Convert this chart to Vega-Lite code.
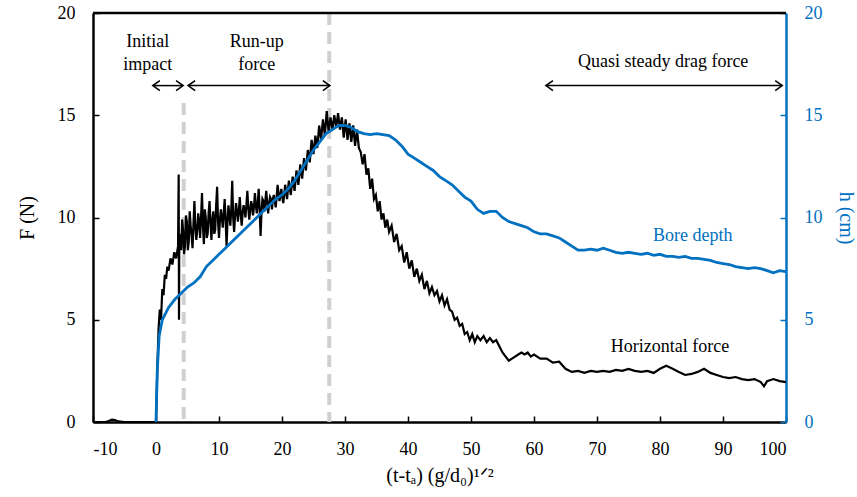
{
  "$schema": "https://vega.github.io/schema/vega-lite/v6.json",
  "width": 693,
  "height": 409,
  "autosize": {"type": "none"},
  "padding": {"left": 93, "top": 13, "right": 71, "bottom": 75},
  "background": "white",
  "config": {
    "view": {"stroke": null},
    "font": "Liberation Serif",
    "axis": {"grid": false, "labelFont": "Liberation Serif", "titleFont": "Liberation Serif", "labelFontSize": 18, "titleFontSize": 20, "titleFontWeight": "normal", "domainWidth": 2.5, "tickWidth": 1.5, "tickSize": -6, "labelPadding": 24}
  },
  "datasets": {
    "force": [
      {"x": -10, "F": 0}, {"x": -8, "F": 0}, {"x": -7.5, "F": 0.05}, {"x": -7, "F": 0.12}, {"x": -6.5, "F": 0.1}, {"x": -6, "F": 0.03}, {"x": -5, "F": 0}, {"x": 0, "F": 0},
      {"x": 0.2, "F": 2.5}, {"x": 0.4, "F": 4.5}, {"x": 0.6, "F": 5.5}, {"x": 0.8, "F": 5.0}, {"x": 1.0, "F": 6.5}, {"x": 1.2, "F": 6.2}, {"x": 1.4, "F": 7.2}, {"x": 1.6, "F": 7.0}, {"x": 1.8, "F": 7.6}, {"x": 2.0, "F": 7.4}, {"x": 2.3, "F": 8.0}, {"x": 2.6, "F": 7.7}, {"x": 2.9, "F": 8.3}, {"x": 3.2, "F": 8.0}, {"x": 3.5, "F": 8.6}, {"x": 3.6, "F": 12.1}, {"x": 3.65, "F": 5.0}, {"x": 3.7, "F": 9.2},
      {"x": 4.0, "F": 8.4}, {"x": 4.15, "F": 9.9}, {"x": 4.3, "F": 9.4}, {"x": 4.45, "F": 8.2}, {"x": 4.6, "F": 8.6}, {"x": 4.75, "F": 10.1}, {"x": 4.9, "F": 9.8}, {"x": 5.05, "F": 8.4}, {"x": 5.2, "F": 8.8}, {"x": 5.35, "F": 10.3}, {"x": 5.5, "F": 9.6}, {"x": 5.65, "F": 9.1}, {"x": 5.8, "F": 8.5}, {"x": 5.95, "F": 9.7}, {"x": 6.1, "F": 10.8}, {"x": 6.25, "F": 9.5}, {"x": 6.4, "F": 8.9}, {"x": 6.55, "F": 9.4}, {"x": 6.7, "F": 10.2}, {"x": 6.85, "F": 9.8}, {"x": 7.0, "F": 9.0}, {"x": 7.15, "F": 10.0}, {"x": 7.3, "F": 11.2}, {"x": 7.45, "F": 9.6}, {"x": 7.6, "F": 8.7}, {"x": 7.75, "F": 10.4}, {"x": 7.9, "F": 10.0}, {"x": 8.05, "F": 9.0}, {"x": 8.2, "F": 9.2}, {"x": 8.35, "F": 10.2}, {"x": 8.5, "F": 10.8}, {"x": 8.65, "F": 9.7}, {"x": 8.8, "F": 8.9}, {"x": 8.95, "F": 9.9}, {"x": 9.1, "F": 10.3}, {"x": 9.25, "F": 9.2}, {"x": 9.4, "F": 9.4}, {"x": 9.55, "F": 10.6}, {"x": 9.7, "F": 11.5}, {"x": 9.85, "F": 9.8}, {"x": 10.0, "F": 9.0}, {"x": 10.15, "F": 9.9}, {"x": 10.3, "F": 10.4}, {"x": 10.45, "F": 10.0}, {"x": 10.6, "F": 9.5}, {"x": 10.75, "F": 10.2}, {"x": 10.9, "F": 10.9}, {"x": 11.05, "F": 9.9}, {"x": 11.2, "F": 8.6}, {"x": 11.35, "F": 9.8}, {"x": 11.5, "F": 10.6}, {"x": 11.65, "F": 10.1}, {"x": 11.8, "F": 9.6}, {"x": 11.95, "F": 10.4}, {"x": 12.1, "F": 11.8}, {"x": 12.25, "F": 10.0}, {"x": 12.4, "F": 9.3}, {"x": 12.55, "F": 10.1}, {"x": 12.7, "F": 10.7}, {"x": 12.85, "F": 10.3}, {"x": 13.0, "F": 9.8}, {"x": 13.15, "F": 10.3}, {"x": 13.3, "F": 11.0}, {"x": 13.45, "F": 10.2}, {"x": 13.6, "F": 9.6}, {"x": 13.75, "F": 10.2}, {"x": 13.9, "F": 10.6}, {"x": 14.05, "F": 10.4}, {"x": 14.2, "F": 10.0}, {"x": 14.35, "F": 10.6}, {"x": 14.5, "F": 11.3}, {"x": 14.65, "F": 10.5}, {"x": 14.8, "F": 9.9}, {"x": 14.95, "F": 10.3}, {"x": 15.1, "F": 10.8}, {"x": 15.25, "F": 10.6}, {"x": 15.4, "F": 10.1}, {"x": 15.55, "F": 10.5}, {"x": 15.7, "F": 11.2}, {"x": 15.85, "F": 10.6}, {"x": 16.0, "F": 10.2}, {"x": 16.15, "F": 10.7}, {"x": 16.3, "F": 11.4}, {"x": 16.45, "F": 10.4}, {"x": 16.6, "F": 9.1}, {"x": 16.75, "F": 10.3}, {"x": 16.9, "F": 10.9}, {"x": 17.05, "F": 10.8}, {"x": 17.2, "F": 10.3}, {"x": 17.35, "F": 10.8}, {"x": 17.5, "F": 11.3}, {"x": 17.65, "F": 10.7}, {"x": 17.8, "F": 10.2}, {"x": 17.95, "F": 10.7}, {"x": 18.1, "F": 11.0}, {"x": 18.25, "F": 10.9}, {"x": 18.4, "F": 10.4}, {"x": 18.55, "F": 10.9}, {"x": 18.7, "F": 11.1}, {"x": 18.85, "F": 10.8}, {"x": 19.0, "F": 10.5}, {"x": 19.15, "F": 11.0}, {"x": 19.3, "F": 11.6}, {"x": 19.45, "F": 11.2}, {"x": 19.6, "F": 10.8}, {"x": 19.75, "F": 11.1}, {"x": 19.9, "F": 11.4}, {"x": 20.05, "F": 11.0}, {"x": 20.2, "F": 10.7}, {"x": 20.35, "F": 11.1}, {"x": 20.5, "F": 11.6}, {"x": 20.65, "F": 11.3}, {"x": 20.8, "F": 10.9}, {"x": 20.95, "F": 11.4}, {"x": 21.1, "F": 11.8}, {"x": 21.25, "F": 11.4}, {"x": 21.4, "F": 11.1}, {"x": 21.55, "F": 11.6}, {"x": 21.7, "F": 12.0}, {"x": 21.85, "F": 11.6}, {"x": 22.0, "F": 11.3}, {"x": 22.15, "F": 11.8}, {"x": 22.3, "F": 12.3}, {"x": 22.45, "F": 11.9}, {"x": 22.6, "F": 11.6}, {"x": 22.75, "F": 12.1}, {"x": 22.9, "F": 12.6}, {"x": 23.05, "F": 12.2}, {"x": 23.2, "F": 11.9}, {"x": 23.35, "F": 12.4}, {"x": 23.5, "F": 12.9}, {"x": 23.65, "F": 12.6}, {"x": 23.8, "F": 12.3}, {"x": 23.95, "F": 12.8}, {"x": 24.1, "F": 13.3}, {"x": 24.4, "F": 12.7}, {"x": 24.7, "F": 13.8}, {"x": 25.0, "F": 13.1}, {"x": 25.3, "F": 14.0}, {"x": 25.6, "F": 13.4}, {"x": 25.9, "F": 14.5}, {"x": 26.2, "F": 13.8}, {"x": 26.5, "F": 14.8}, {"x": 26.8, "F": 14.0}, {"x": 27.1, "F": 15.2}, {"x": 27.4, "F": 14.2}, {"x": 27.7, "F": 14.9}, {"x": 28.0, "F": 14.3}, {"x": 28.3, "F": 15.0}, {"x": 28.6, "F": 14.4}, {"x": 28.9, "F": 15.1}, {"x": 29.2, "F": 14.3}, {"x": 29.5, "F": 14.9}, {"x": 29.8, "F": 13.9}, {"x": 30.1, "F": 14.8}, {"x": 30.4, "F": 13.8}, {"x": 30.7, "F": 14.6}, {"x": 31.0, "F": 13.7}, {"x": 31.3, "F": 14.5}, {"x": 31.6, "F": 13.5}, {"x": 31.9, "F": 14.3}, {"x": 32.2, "F": 13.4}, {"x": 32.5, "F": 13.2}, {"x": 32.8, "F": 12.6}, {"x": 33.1, "F": 13.1}, {"x": 33.4, "F": 12.1}, {"x": 33.7, "F": 12.4}, {"x": 34.0, "F": 11.4}, {"x": 34.3, "F": 11.9}, {"x": 34.6, "F": 10.9}, {"x": 34.9, "F": 11.1}, {"x": 35.2, "F": 10.3}, {"x": 35.5, "F": 10.8}, {"x": 35.8, "F": 9.9}, {"x": 36.1, "F": 10.2}, {"x": 36.4, "F": 9.5}, {"x": 36.7, "F": 9.9}, {"x": 37.0, "F": 9.3}, {"x": 37.4, "F": 9.6}, {"x": 37.8, "F": 8.8}, {"x": 38.2, "F": 9.2}, {"x": 38.6, "F": 8.4}, {"x": 39.0, "F": 8.6}, {"x": 39.4, "F": 7.8}, {"x": 39.8, "F": 8.3}, {"x": 40.2, "F": 7.5}, {"x": 40.6, "F": 7.9}, {"x": 41.0, "F": 7.1}, {"x": 41.4, "F": 7.5}, {"x": 41.8, "F": 6.9}, {"x": 42.2, "F": 7.2}, {"x": 42.6, "F": 6.5}, {"x": 43.0, "F": 6.9}, {"x": 43.4, "F": 6.3}, {"x": 43.8, "F": 6.6}, {"x": 44.2, "F": 6.2}, {"x": 44.6, "F": 6.4}, {"x": 45.0, "F": 5.9}, {"x": 45.4, "F": 6.2}, {"x": 45.8, "F": 5.7}, {"x": 46.2, "F": 6.0}, {"x": 46.6, "F": 5.5}, {"x": 47.0, "F": 5.4}, {"x": 47.4, "F": 5.0}, {"x": 47.8, "F": 5.1}, {"x": 48.2, "F": 4.7}, {"x": 48.6, "F": 4.8}, {"x": 49.0, "F": 4.3}, {"x": 49.4, "F": 4.4}, {"x": 49.8, "F": 4.0}, {"x": 50.2, "F": 4.3}, {"x": 50.6, "F": 3.9}, {"x": 51.0, "F": 4.2}, {"x": 51.5, "F": 4.0}, {"x": 52.0, "F": 4.2}, {"x": 52.5, "F": 3.9}, {"x": 53.0, "F": 4.1}, {"x": 53.5, "F": 3.9}, {"x": 54.0, "F": 4.0}, {"x": 54.5, "F": 3.7}, {"x": 55.0, "F": 3.4}, {"x": 55.5, "F": 3.2}, {"x": 56.0, "F": 3.0}, {"x": 56.5, "F": 3.1}, {"x": 57.0, "F": 3.2}, {"x": 57.5, "F": 3.3}, {"x": 58.0, "F": 3.4}, {"x": 58.5, "F": 3.3}, {"x": 59.0, "F": 3.4}, {"x": 59.5, "F": 3.2}, {"x": 60.0, "F": 3.3}, {"x": 61, "F": 3.1}, {"x": 62, "F": 3.1}, {"x": 63, "F": 2.9}, {"x": 64, "F": 2.95}, {"x": 65, "F": 2.6}, {"x": 66, "F": 2.45}, {"x": 67, "F": 2.5}, {"x": 68, "F": 2.4}, {"x": 69, "F": 2.5}, {"x": 70, "F": 2.45}, {"x": 71, "F": 2.5}, {"x": 72, "F": 2.45}, {"x": 73, "F": 2.55}, {"x": 74, "F": 2.5}, {"x": 75, "F": 2.6}, {"x": 76, "F": 2.5}, {"x": 77, "F": 2.45}, {"x": 78, "F": 2.5}, {"x": 79, "F": 2.4}, {"x": 80, "F": 2.6}, {"x": 81, "F": 2.75}, {"x": 82, "F": 2.6}, {"x": 83, "F": 2.45}, {"x": 84, "F": 2.3}, {"x": 85, "F": 2.35}, {"x": 86, "F": 2.45}, {"x": 87, "F": 2.6}, {"x": 88, "F": 2.4}, {"x": 89, "F": 2.3}, {"x": 90, "F": 2.2}, {"x": 91, "F": 2.15}, {"x": 92, "F": 2.2}, {"x": 93, "F": 2.1}, {"x": 94, "F": 2.05}, {"x": 95, "F": 2.1}, {"x": 96, "F": 1.95}, {"x": 96.5, "F": 1.75}, {"x": 97, "F": 2.0}, {"x": 98, "F": 2.1}, {"x": 99, "F": 2.0}, {"x": 100, "F": 1.95}
    ],
    "depth": [
      {"x": 0, "h": 0}, {"x": 0.2, "h": 2.5}, {"x": 0.5, "h": 4.2}, {"x": 1, "h": 5.0}, {"x": 2, "h": 5.6}, {"x": 3, "h": 6.0}, {"x": 4, "h": 6.3}, {"x": 5, "h": 6.6}, {"x": 6, "h": 6.8}, {"x": 7, "h": 7.1}, {"x": 8, "h": 7.6}, {"x": 9, "h": 7.9}, {"x": 10, "h": 8.2}, {"x": 11, "h": 8.5}, {"x": 12, "h": 8.8}, {"x": 13, "h": 9.1}, {"x": 14, "h": 9.4}, {"x": 15, "h": 9.7}, {"x": 16, "h": 10.0}, {"x": 17, "h": 10.3}, {"x": 18, "h": 10.6}, {"x": 19, "h": 10.9}, {"x": 20, "h": 11.1}, {"x": 21, "h": 11.4}, {"x": 22, "h": 11.8}, {"x": 23, "h": 12.3}, {"x": 24, "h": 12.8}, {"x": 25, "h": 13.3}, {"x": 26, "h": 13.7}, {"x": 27, "h": 14.1}, {"x": 28, "h": 14.3}, {"x": 29, "h": 14.5}, {"x": 30, "h": 14.5}, {"x": 31, "h": 14.4}, {"x": 32, "h": 14.2}, {"x": 33, "h": 14.1}, {"x": 34, "h": 14.05}, {"x": 35, "h": 14.1}, {"x": 36, "h": 14.05}, {"x": 37, "h": 14.0}, {"x": 38, "h": 13.8}, {"x": 39, "h": 13.5}, {"x": 40, "h": 13.1}, {"x": 41, "h": 12.9}, {"x": 42, "h": 12.7}, {"x": 43, "h": 12.5}, {"x": 44, "h": 12.3}, {"x": 45, "h": 12.0}, {"x": 46, "h": 11.8}, {"x": 47, "h": 11.6}, {"x": 48, "h": 11.3}, {"x": 49, "h": 11.0}, {"x": 50, "h": 10.8}, {"x": 51, "h": 10.4}, {"x": 52, "h": 10.2}, {"x": 53, "h": 10.3}, {"x": 54, "h": 10.3}, {"x": 55, "h": 10.0}, {"x": 56, "h": 9.8}, {"x": 57, "h": 9.7}, {"x": 58, "h": 9.6}, {"x": 59, "h": 9.5}, {"x": 60, "h": 9.3}, {"x": 61, "h": 9.2}, {"x": 62, "h": 9.2}, {"x": 63, "h": 9.1}, {"x": 64, "h": 9.0}, {"x": 65, "h": 8.8}, {"x": 66, "h": 8.6}, {"x": 67, "h": 8.4}, {"x": 68, "h": 8.4}, {"x": 69, "h": 8.45}, {"x": 70, "h": 8.4}, {"x": 71, "h": 8.5}, {"x": 72, "h": 8.4}, {"x": 73, "h": 8.3}, {"x": 74, "h": 8.25}, {"x": 75, "h": 8.3}, {"x": 76, "h": 8.25}, {"x": 77, "h": 8.2}, {"x": 78, "h": 8.25}, {"x": 79, "h": 8.15}, {"x": 80, "h": 8.2}, {"x": 81, "h": 8.1}, {"x": 82, "h": 8.1}, {"x": 83, "h": 8.05}, {"x": 84, "h": 8.1}, {"x": 85, "h": 8.0}, {"x": 86, "h": 8.0}, {"x": 87, "h": 7.95}, {"x": 88, "h": 7.9}, {"x": 89, "h": 7.8}, {"x": 90, "h": 7.75}, {"x": 91, "h": 7.7}, {"x": 92, "h": 7.6}, {"x": 93, "h": 7.55}, {"x": 94, "h": 7.5}, {"x": 95, "h": 7.55}, {"x": 96, "h": 7.5}, {"x": 97, "h": 7.4}, {"x": 98, "h": 7.3}, {"x": 99, "h": 7.4}, {"x": 100, "h": 7.35}
    ],
    "vlines": [{"x": 4.4, "top": 15.6, "bottom": 0}, {"x": 27.5, "top": 20, "bottom": 0}],
    "border": [{"x1": -10, "x2": 100, "y": 20}],
    "arrows": [{"x1": -0.5, "x2": 4.3, "y": 16.45}, {"x1": 5.1, "x2": 27.6, "y": 16.45}, {"x1": 61.9, "x2": 99.4, "y": 16.45}],
    "heads": [
      {"x": -0.5, "y": 16.45, "dir": "L"}, {"x": 4.3, "y": 16.45, "dir": "R"},
      {"x": 5.1, "y": 16.45, "dir": "L"}, {"x": 27.6, "y": 16.45, "dir": "R"},
      {"x": 61.9, "y": 16.45, "dir": "L"}, {"x": 99.4, "y": 16.45, "dir": "R"}
    ],
    "labels": [
      {"x": -1.3, "y": 18.58, "text": "Initial", "c": "k"},
      {"x": -1.3, "y": 17.46, "text": "impact", "c": "k"},
      {"x": 16.0, "y": 18.58, "text": "Run-up", "c": "k"},
      {"x": 16.0, "y": 17.46, "text": "force", "c": "k"},
      {"x": 80.5, "y": 17.6, "text": "Quasi steady drag force", "c": "k"},
      {"x": 85.2, "y": 9.1, "text": "Bore depth", "c": "b"},
      {"x": 81.6, "y": 3.65, "text": "Horizontal force", "c": "k"}
    ]
  },
  "layer": [
    {
      "data": {"name": "vlines"},
      "mark": {"type": "rule", "color": "#d0d0d0", "strokeWidth": 4, "strokeDash": [12, 7]},
      "encoding": {
        "x": {"field": "x", "type": "quantitative", "scale": {"domain": [-10, 100], "nice": false},
          "axis": {"values": [-10, 0, 10, 20, 30, 40, 50, 60, 70, 80, 90, 100], "labelExpr": "datum.value < 0 ? '-' + abs(datum.value) : datum.label", "title": "(t-tₐ) (g/d₀)¹ᐟ²", "domainColor": "black", "tickColor": "black", "labelColor": "black", "titleColor": "black", "labelPadding": 24, "titlePadding": 7}},
        "y": {"field": "top", "type": "quantitative", "scale": {"domain": [0, 20], "nice": false}, "axis": null},
        "y2": {"field": "bottom"}
      }
    },
    {
      "data": {"name": "force"},
      "mark": {"type": "line", "color": "black", "strokeWidth": 2.2},
      "encoding": {
        "x": {"field": "x", "type": "quantitative", "scale": {"domain": [-10, 100], "nice": false}},
        "y": {"field": "F", "type": "quantitative", "scale": {"domain": [0, 20], "nice": false},
          "axis": {"orient": "left", "values": [0, 5, 10, 15, 20], "title": "F (N)", "domainColor": "black", "tickColor": "black", "labelColor": "black", "titleColor": "black", "titlePadding": 20}}
      }
    },
    {
      "data": {"name": "depth"},
      "mark": {"type": "line", "color": "#0070C0", "strokeWidth": 2.8},
      "encoding": {
        "x": {"field": "x", "type": "quantitative", "scale": {"domain": [-10, 100], "nice": false}},
        "y": {"field": "h", "type": "quantitative", "scale": {"domain": [0, 20], "nice": false},
          "axis": {"orient": "right", "values": [0, 5, 10, 15, 20], "title": "h (cm)", "domainColor": "#0070C0", "tickColor": "#0070C0", "labelColor": "#0070C0", "titleColor": "#0070C0", "titlePadding": 13}}
      }
    },
    {
      "data": {"name": "border"},
      "mark": {"type": "rule", "color": "black", "strokeWidth": 2.5},
      "encoding": {
        "x": {"field": "x1", "type": "quantitative", "scale": {"domain": [-10, 100], "nice": false}},
        "x2": {"field": "x2"},
        "y": {"field": "y", "type": "quantitative", "scale": {"domain": [0, 20], "nice": false}, "axis": null}
      }
    },
    {
      "data": {"name": "arrows"},
      "mark": {"type": "rule", "color": "black", "strokeWidth": 1.5},
      "encoding": {
        "x": {"field": "x1", "type": "quantitative", "scale": {"domain": [-10, 100], "nice": false}},
        "x2": {"field": "x2"},
        "y": {"field": "y", "type": "quantitative", "scale": {"domain": [0, 20], "nice": false}, "axis": null}
      }
    },
    {
      "data": {"name": "heads"},
      "mark": {"type": "point", "filled": false, "stroke": "black", "strokeWidth": 1.6, "size": 100, "opacity": 1},
      "encoding": {
        "x": {"field": "x", "type": "quantitative", "scale": {"domain": [-10, 100], "nice": false}},
        "y": {"field": "y", "type": "quantitative", "scale": {"domain": [0, 20], "nice": false}, "axis": null},
        "shape": {"field": "dir", "type": "nominal", "scale": {"domain": ["L", "R"], "range": ["M 1.4 -1 L 0 0 L 1.4 1", "M -1.4 -1 L 0 0 L -1.4 1"]}, "legend": null}
      }
    },
    {
      "data": {"name": "labels"},
      "mark": {"type": "text", "font": "Liberation Serif", "fontSize": 18, "align": "center", "baseline": "middle"},
      "encoding": {
        "x": {"field": "x", "type": "quantitative", "scale": {"domain": [-10, 100], "nice": false}},
        "y": {"field": "y", "type": "quantitative", "scale": {"domain": [0, 20], "nice": false}, "axis": null},
        "text": {"field": "text"},
        "color": {"field": "c", "type": "nominal", "scale": {"domain": ["k", "b"], "range": ["black", "#0070C0"]}, "legend": null}
      }
    }
  ],
  "resolve": {"scale": {"y": "independent", "shape": "independent", "color": "independent"}}
}
